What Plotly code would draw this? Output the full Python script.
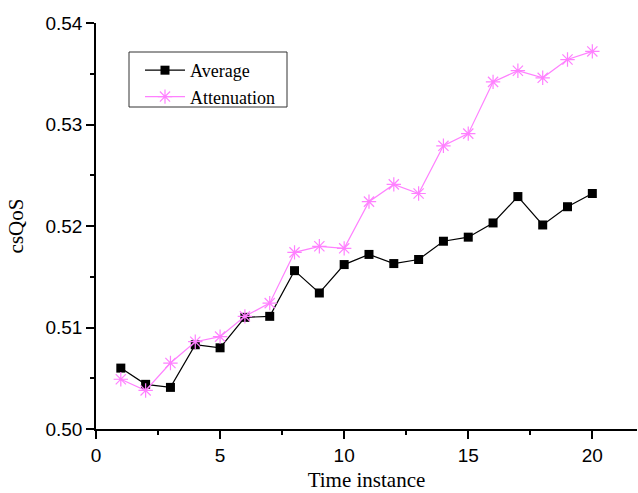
import plotly.graph_objects as go

time_instance = list(range(1, 21))
average = [0.5060, 0.5044, 0.5041, 0.5083, 0.5080, 0.5110, 0.5111, 0.5156, 0.5134, 0.5162,
           0.5172, 0.5163, 0.5167, 0.5185, 0.5189, 0.5203, 0.5229, 0.5201, 0.5219, 0.5232]
attenuation = [0.5049, 0.5038, 0.5065, 0.5086, 0.5091, 0.5111, 0.5124, 0.5174, 0.5180, 0.5178,
               0.5224, 0.5241, 0.5232, 0.5279, 0.5291, 0.5342, 0.5353, 0.5346, 0.5364, 0.5372]

x_ticks = [0, 5, 10, 15, 20]
y_ticks = [0.50, 0.51, 0.52, 0.53, 0.54]
y_tick_labels = ["0.50", "0.51", "0.52", "0.53", "0.54"]

fig = go.Figure()
fig.add_trace(go.Scatter(
    x=time_instance, y=average, name="Average", mode="lines+markers",
    line=dict(color="black", width=1.2),
    marker=dict(symbol="square", size=9, color="black"),
))
fig.add_trace(go.Scatter(
    x=time_instance, y=attenuation, name="Attenuation", mode="lines+markers",
    line=dict(color="#FF80FF", width=1.2),
    marker=dict(symbol="asterisk-open", size=12, color="#FF80FF",
                line=dict(color="#FF80FF", width=1.2)),
))

axis_common = dict(
    showgrid=False, zeroline=False, showline=True, linecolor="black", linewidth=1.5,
    ticks="outside", ticklen=8, tickwidth=1.5, tickcolor="black",
    tickfont=dict(family="Liberation Sans, Arial", size=19, color="black"),
    mirror=False,
)

fig.update_layout(
    width=638, height=493,
    margin=dict(l=96, r=1, t=23, b=64),
    paper_bgcolor="white", plot_bgcolor="white",
    xaxis=dict(range=[0, 21.8], tickvals=x_ticks, **axis_common,
               minor=dict(ticks="outside", ticklen=4, tickwidth=1.5, tickcolor="black", dtick=2.5, tick0=0),
               title=dict(text="Time instance", font=dict(family="Liberation Serif, Times New Roman", size=21, color="black"),
                          standoff=8)),
    yaxis=dict(range=[0.50, 0.54], tickvals=y_ticks, ticktext=y_tick_labels, **axis_common,
               minor=dict(ticks="outside", ticklen=4, tickwidth=1.5, tickcolor="black", dtick=0.005, tick0=0.5),
               title=dict(text="csQoS", font=dict(family="Liberation Serif, Times New Roman", size=21, color="black"),
                          standoff=16)),
    legend=dict(x=(140 - 96) / 541, y=0.9286, xanchor="left", yanchor="top",
                borderwidth=0, bgcolor="rgba(0,0,0,0)",
                font=dict(family="Liberation Serif, Times New Roman", size=18, color="black"),
                itemwidth=40, tracegroupgap=0),
    showlegend=True,
    shapes=[dict(type="rect", xref="paper", yref="paper",
                 x0=(129 - 96) / 541, x1=(287 - 96) / 541,
                 y0=1 - (107 - 23) / 406, y1=1 - (52 - 23) / 406,
                 line=dict(color="#333333", width=1), fillcolor="rgba(0,0,0,0)", layer="above")],
)

fig.write_html("out.html")
